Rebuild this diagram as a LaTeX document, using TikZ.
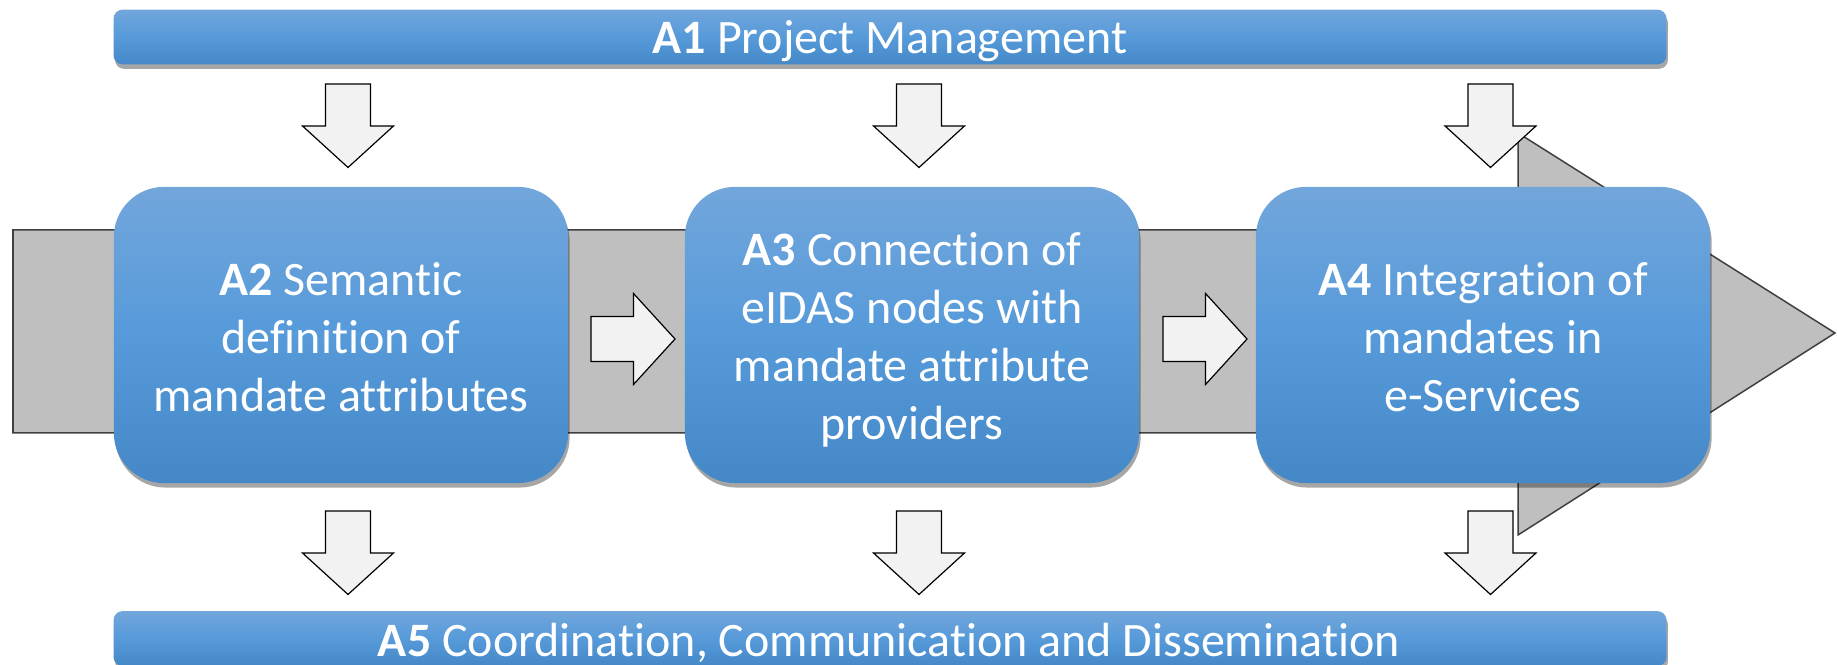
\documentclass[tikz,border=0pt]{standalone}
\usepackage{fontspec}
\setmainfont[Ligatures={NoCommon}]{Carlito}
\usetikzlibrary{shadows}
\definecolor{bluetop}{RGB}{114,166,219}
\definecolor{bluemid}{RGB}{86,154,218}
\definecolor{bluebot}{RGB}{68,136,199}
\definecolor{bandgray}{RGB}{191,191,191}
\definecolor{arrowfill}{RGB}{242,242,242}
\begin{document}
\begin{tikzpicture}[x=0.01cm,y=-0.01cm,
  bluefill/.style={top color=bluetop, bottom color=bluebot, middle color=bluemid,
    drop shadow={shadow xshift=0.015cm, shadow yshift=-0.045cm, opacity=0.35, fill=black}},
  bar/.style={bluefill, rectangle, rounded corners=0.09cm, minimum width=15.52cm, minimum height=0.547cm, inner sep=0pt},
  actbox/.style={bluefill, rectangle, rounded corners=0.5cm, minimum width=4.54cm, minimum height=2.96cm, inner sep=0pt},
  acttext/.style={text=white, font=\fontsize{13.65pt}{16.5pt}\selectfont, align=center, inner sep=0pt, anchor=base},
  band/.style={fill=bandgray, draw=black!75, line width=0.015cm, line join=miter},
  blockarrow/.style={fill=arrowfill, draw=black, line width=0.012cm, line join=miter},
  downarrow/.pic={\path[blockarrow] (-22.5,0) -- (22.5,0) -- (22.5,42) -- (45.5,42) -- (0,83.5) -- (-45.5,42) -- (-22.5,42) -- cycle;},
  rightarrow/.pic={\path[blockarrow] (0,-22.5) -- (42.5,-22.5) -- (42.5,-45.5) -- (84,0) -- (42.5,45.5) -- (42.5,22.5) -- (0,22.5) -- cycle;}
]
\useasboundingbox (0,0) rectangle (1837,665);

% big gray process arrow
\path[band] (13,230) -- (1518,230) -- (1518,133) -- (1835,333) -- (1518,535) -- (1518,433) -- (13,433) -- cycle;

% down arrows
\pic (dnA) at (348,84) {downarrow};
\pic (dnB) at (919,84) {downarrow};
\pic (dnC) at (1490.5,84) {downarrow};
\pic (upA) at (348,511) {downarrow};
\pic (upB) at (919,511) {downarrow};
\pic (upC) at (1490.5,511) {downarrow};

% right arrows
\pic (rtA) at (591,339) {rightarrow};
\pic (rtB) at (1163,339) {rightarrow};

% activity boxes
\node[actbox] (a2) at (341,335) {};
\node[actbox] (a3) at (912,335) {};
\node[actbox] (a4) at (1483,335) {};

% bars
\node[bar] (a1) at (890,37) {};
\node[bar] (a5) at (890,638.5) {};

% texts (anchor base = baseline of the last line)
\node[acttext] (a1t) at (890,54) {\textbf{A1} Project Management};
\node[acttext] (a5t) at (889,657) {\textbf{A5} Coordination, Communication and Dissemination};
\node[acttext] (a2t) at (341,411.4) {\textbf{A2} Semantic\\definition of\\mandate attributes};
\node[acttext] (a3t) at (912,439.3) {\textbf{A3} Connection of\\eIDAS nodes with\\mandate attribute\\providers};
\node[acttext] (a4t) at (1483,412) {\textbf{A4} Integration of\\mandates in\\e-Services};
\end{tikzpicture}
\end{document}
